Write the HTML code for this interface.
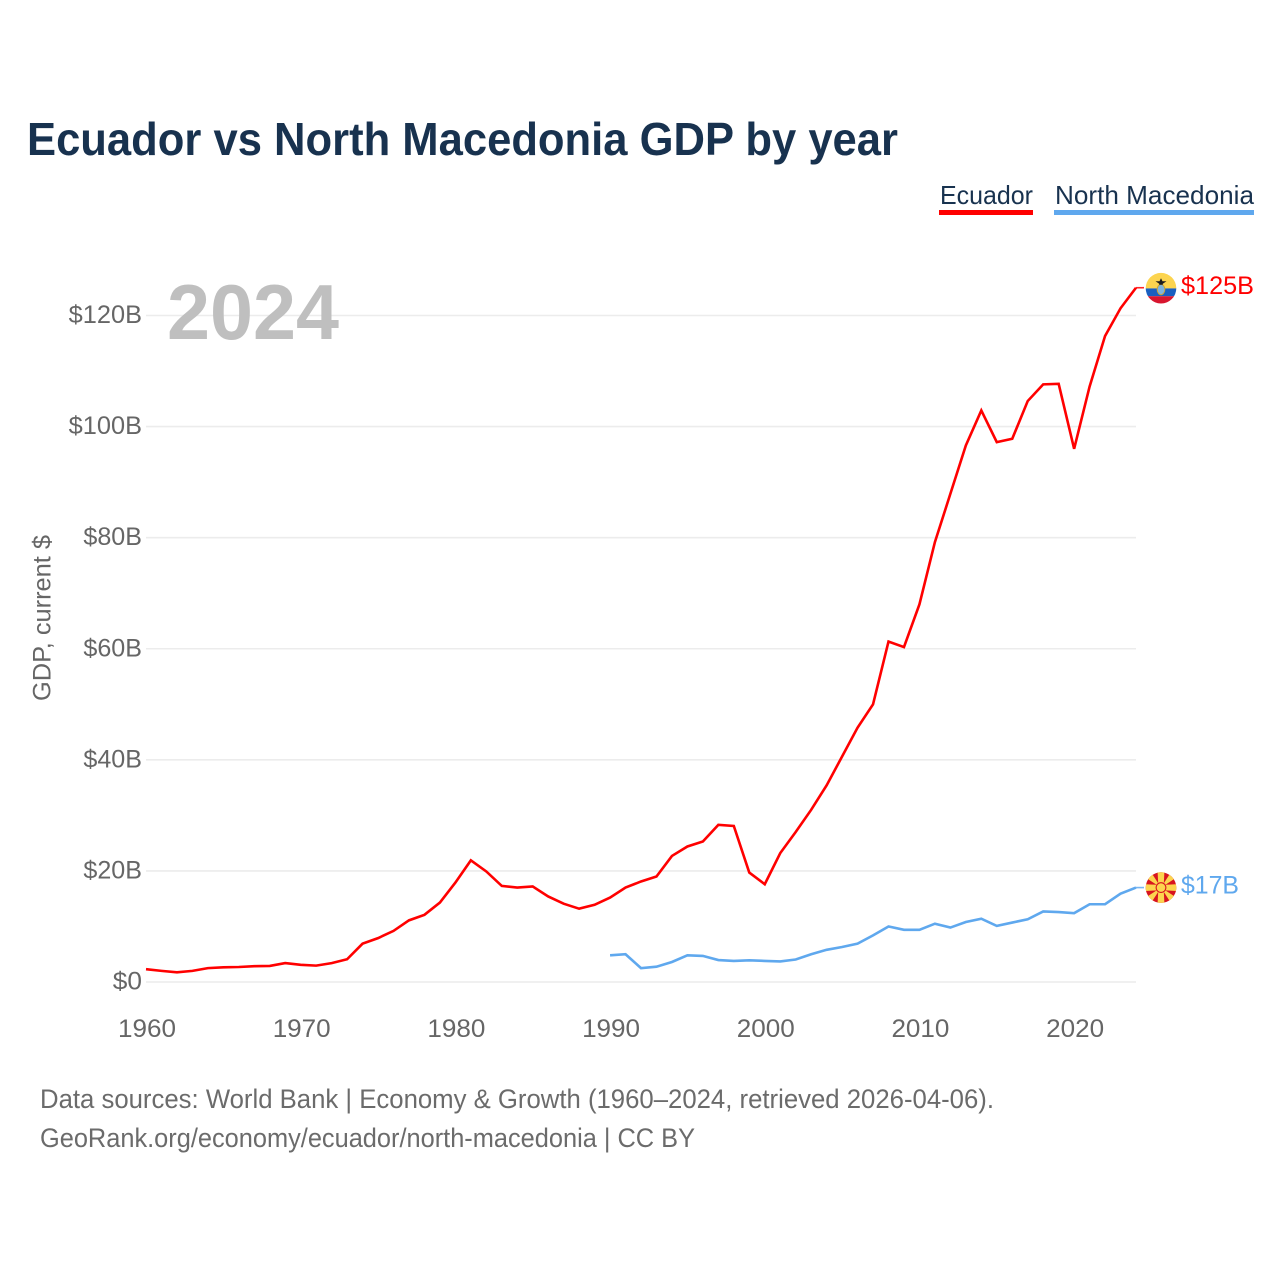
<!DOCTYPE html>
<html lang="en">
<head>
<meta charset="utf-8">
<title>Ecuador vs North Macedonia GDP by year</title>
<style>
html,body{margin:0;padding:0;background:#fff;}
svg{display:block;font-family:"Liberation Sans",sans-serif;}
</style>
</head>
<body>
<svg id="chart" width="1280" height="1280" viewBox="0 0 1280 1280" xmlns="http://www.w3.org/2000/svg">
  <rect width="1280" height="1280" fill="#fff"/>
  <text x="27" y="155" font-size="46" font-weight="bold" fill="#18324f" textLength="871" lengthAdjust="spacingAndGlyphs">Ecuador vs North Macedonia GDP by year</text>

  <g>
    <text x="940" y="204" font-size="26" fill="#18324f" textLength="93" lengthAdjust="spacingAndGlyphs">Ecuador</text>
    <rect x="939" y="210" width="94" height="5" fill="#ff0000"/>
  </g>
  <g>
    <text x="1055" y="204" font-size="26" fill="#18324f" textLength="199" lengthAdjust="spacingAndGlyphs">North Macedonia</text>
    <rect x="1054" y="210" width="200" height="5" fill="#5fa8ee"/>
  </g>

  <text transform="translate(50.5,618) rotate(-90)" text-anchor="middle" font-size="25" fill="#666" textLength="166" lengthAdjust="spacingAndGlyphs">GDP, current $</text>

  <g id="grid"></g>
  <g id="yticks"></g>
  <g id="xticks"></g>

  <text x="167" y="339" font-size="78" font-weight="bold" fill="#bfbfbf" textLength="172" lengthAdjust="spacingAndGlyphs">2024</text>

  <g id="series"></g>

  <g id="flag-ecuador">
    <clipPath id="clip-ec"><circle cx="0" cy="0.5" r="15.3"/></clipPath>
    <g clip-path="url(#clip-ec)">
      <rect x="-16" y="-16" width="32" height="16.7" fill="#fcd44f"/>
      <rect x="-16" y="0.7" width="32" height="7.8" fill="#1a5fc0"/>
      <rect x="-16" y="8.5" width="32" height="8" fill="#d8152f"/>
      <ellipse cx="0" cy="1.8" rx="3.8" ry="5.2" fill="#7fb4dc" stroke="#c9a23a" stroke-width="1"/>
      <path d="M-5.5 -6.5 L5.5 -6.5 L1.8 -4 L1.8 -3 L-1.8 -3 L-1.8 -4 Z M-1.5 -6.5 L0 -9.5 L1.5 -6.5 Z" fill="#1c1c1c"/>
    </g>
  </g>

  <g id="flag-north-macedonia">
    <clipPath id="clip-mk"><circle cx="0" cy="0" r="15.3"/></clipPath>
    <g clip-path="url(#clip-mk)">
      <rect x="-16" y="-16" width="32" height="32" fill="#d8141f"/>
      <path d="M-2.6 0 L-3.4 -16 L3.4 -16 L2.6 0 Z" fill="#fcd44f"/>
      <path d="M-2.6 0 L-3.4 -16 L3.4 -16 L2.6 0 Z" fill="#fcd44f" transform="rotate(180)"/>
      <path d="M-2.6 0 L-3.4 -16 L3.4 -16 L2.6 0 Z" fill="#fcd44f" transform="rotate(90)"/>
      <path d="M-2.6 0 L-3.4 -16 L3.4 -16 L2.6 0 Z" fill="#fcd44f" transform="rotate(270)"/>
      <path d="M0 0 L-4.5 -21 L4.5 -21 Z" fill="#fcd44f" transform="rotate(45)"/>
      <path d="M0 0 L-4.5 -21 L4.5 -21 Z" fill="#fcd44f" transform="rotate(135)"/>
      <path d="M0 0 L-4.5 -21 L4.5 -21 Z" fill="#fcd44f" transform="rotate(225)"/>
      <path d="M0 0 L-4.5 -21 L4.5 -21 Z" fill="#fcd44f" transform="rotate(315)"/>
      <circle r="5.4" fill="#d8141f"/>
      <circle r="4.3" fill="#fcd44f"/>
    </g>
  </g>

  <text id="label-ecuador" x="1181" font-size="25" fill="#ff0000" textLength="73" lengthAdjust="spacingAndGlyphs">$125B</text>
  <text id="label-north-macedonia" x="1181" font-size="25" fill="#5fa8ee" textLength="58" lengthAdjust="spacingAndGlyphs">$17B</text>

  <text x="40" y="1108" font-size="27" fill="#6b6b6b" textLength="954" lengthAdjust="spacingAndGlyphs">Data sources: World Bank | Economy &amp; Growth (1960–2024, retrieved 2026-04-06).</text>
  <text x="40" y="1147" font-size="27" fill="#6b6b6b" textLength="655" lengthAdjust="spacingAndGlyphs">GeoRank.org/economy/ecuador/north-macedonia | CC BY</text>
</svg>
<script>
const xTickYears = [1960, 1970, 1980, 1990, 2000, 2010, 2020];
const yTickValues = [0, 20, 40, 60, 80, 100, 120];
const ecuadorStartYear = 1960;
const northMacedoniaStartYear = 1990;
const ecuadorGdp = [2.3, 2.0, 1.75, 2.0, 2.5, 2.65, 2.7, 2.85, 2.9, 3.4, 3.1, 2.95, 3.4, 4.1, 6.9, 7.9, 9.2, 11.1, 12.1, 14.3, 17.9, 21.9, 19.9, 17.3, 17.0, 17.2, 15.4, 14.1, 13.2, 13.9, 15.2, 17.0, 18.1, 19.0, 22.7, 24.4, 25.3, 28.3, 28.1, 19.7, 17.6, 23.2, 27.0, 31.0, 35.4, 40.6, 45.8, 50.0, 61.3, 60.3, 68.0, 79.2, 87.9, 96.6, 102.9, 97.2, 97.8, 104.6, 107.6, 107.7, 96.0, 107.2, 116.3, 121.3, 125.0];
const northMacedoniaGdp = [4.8, 5.0, 2.5, 2.75, 3.6, 4.8, 4.7, 3.95, 3.8, 3.9, 3.8, 3.7, 4.05, 5.0, 5.8, 6.3, 6.9, 8.4, 10.0, 9.4, 9.4, 10.5, 9.8, 10.8, 11.4, 10.1, 10.7, 11.3, 12.7, 12.6, 12.4, 14.0, 14.0, 15.9, 17.0];

const NS = 'http://www.w3.org/2000/svg';
const plotLeft = 146, plotRight = 1136, plotZero = 982, plot120 = 315.5;
const xAxis = year => plotLeft + (year - 1960) * (plotRight - plotLeft) / 64;
const yAxis = value => plotZero - value * (plotZero - plot120) / 120;

function make(tag, attrs, parent, text) {
  const el = document.createElementNS(NS, tag);
  for (const k in attrs) el.setAttribute(k, attrs[k]);
  if (text !== undefined) el.textContent = text;
  parent.appendChild(el);
  return el;
}

const grid = document.getElementById('grid');
const yticks = document.getElementById('yticks');
const xticks = document.getElementById('xticks');
const seriesGroup = document.getElementById('series');

yTickValues.forEach(v => {
  const line = make('line', {x1: plotLeft, x2: plotRight, y1: yAxis(v), y2: yAxis(v), stroke: '#ececec', 'stroke-width': 1.6}, grid);
  
  
  const label = '$' + v + (v ? 'B' : '');
  const t = make('text', {x: 142, y: yAxis(v) + 7.5, 'text-anchor': 'end', 'font-size': 25, fill: '#666', textLength: (label.length - 1) * 14.7 + 14.5, lengthAdjust: 'spacingAndGlyphs'}, yticks, label);
  
  
});

xTickYears.forEach(y => {
  const t = make('text', {x: xAxis(y) + 1, y: 1037, 'text-anchor': 'middle', 'font-size': 25, fill: '#666', textLength: 58, lengthAdjust: 'spacingAndGlyphs'}, xticks, String(y));
  
  
});

function drawSeries(values, startYear, color, name) {
  const pts = values.map((v, i) => xAxis(startYear + i).toFixed(2) + ',' + yAxis(v).toFixed(2)).join(' ');
  const line = make('polyline', {points: pts, fill: 'none', stroke: color, 'stroke-width': 2.6, 'stroke-linejoin': 'miter'}, seriesGroup);
  
  
  const last = values[values.length - 1];
  const lastYear = startYear + values.length - 1;
  const conn = make('line', {x1: xAxis(lastYear), x2: xAxis(lastYear) + 8, y1: yAxis(last), y2: yAxis(last), stroke: color, 'stroke-width': 1.6, 'stroke-opacity': 0.85}, seriesGroup);
  
  
  return yAxis(last);
}

const ecY = drawSeries(ecuadorGdp, ecuadorStartYear, '#ff0000', 'line-ecuador');
const mkY = drawSeries(northMacedoniaGdp, northMacedoniaStartYear, '#5fa8ee', 'line-north-macedonia');

document.getElementById('flag-ecuador').setAttribute('transform', 'translate(1161,' + ecY + ')');
document.getElementById('flag-north-macedonia').setAttribute('transform', 'translate(1161,' + mkY + ')');
document.getElementById('label-ecuador').setAttribute('y', ecY + 6.5);
document.getElementById('label-north-macedonia').setAttribute('y', mkY + 6);
</script>
</body>
</html>
